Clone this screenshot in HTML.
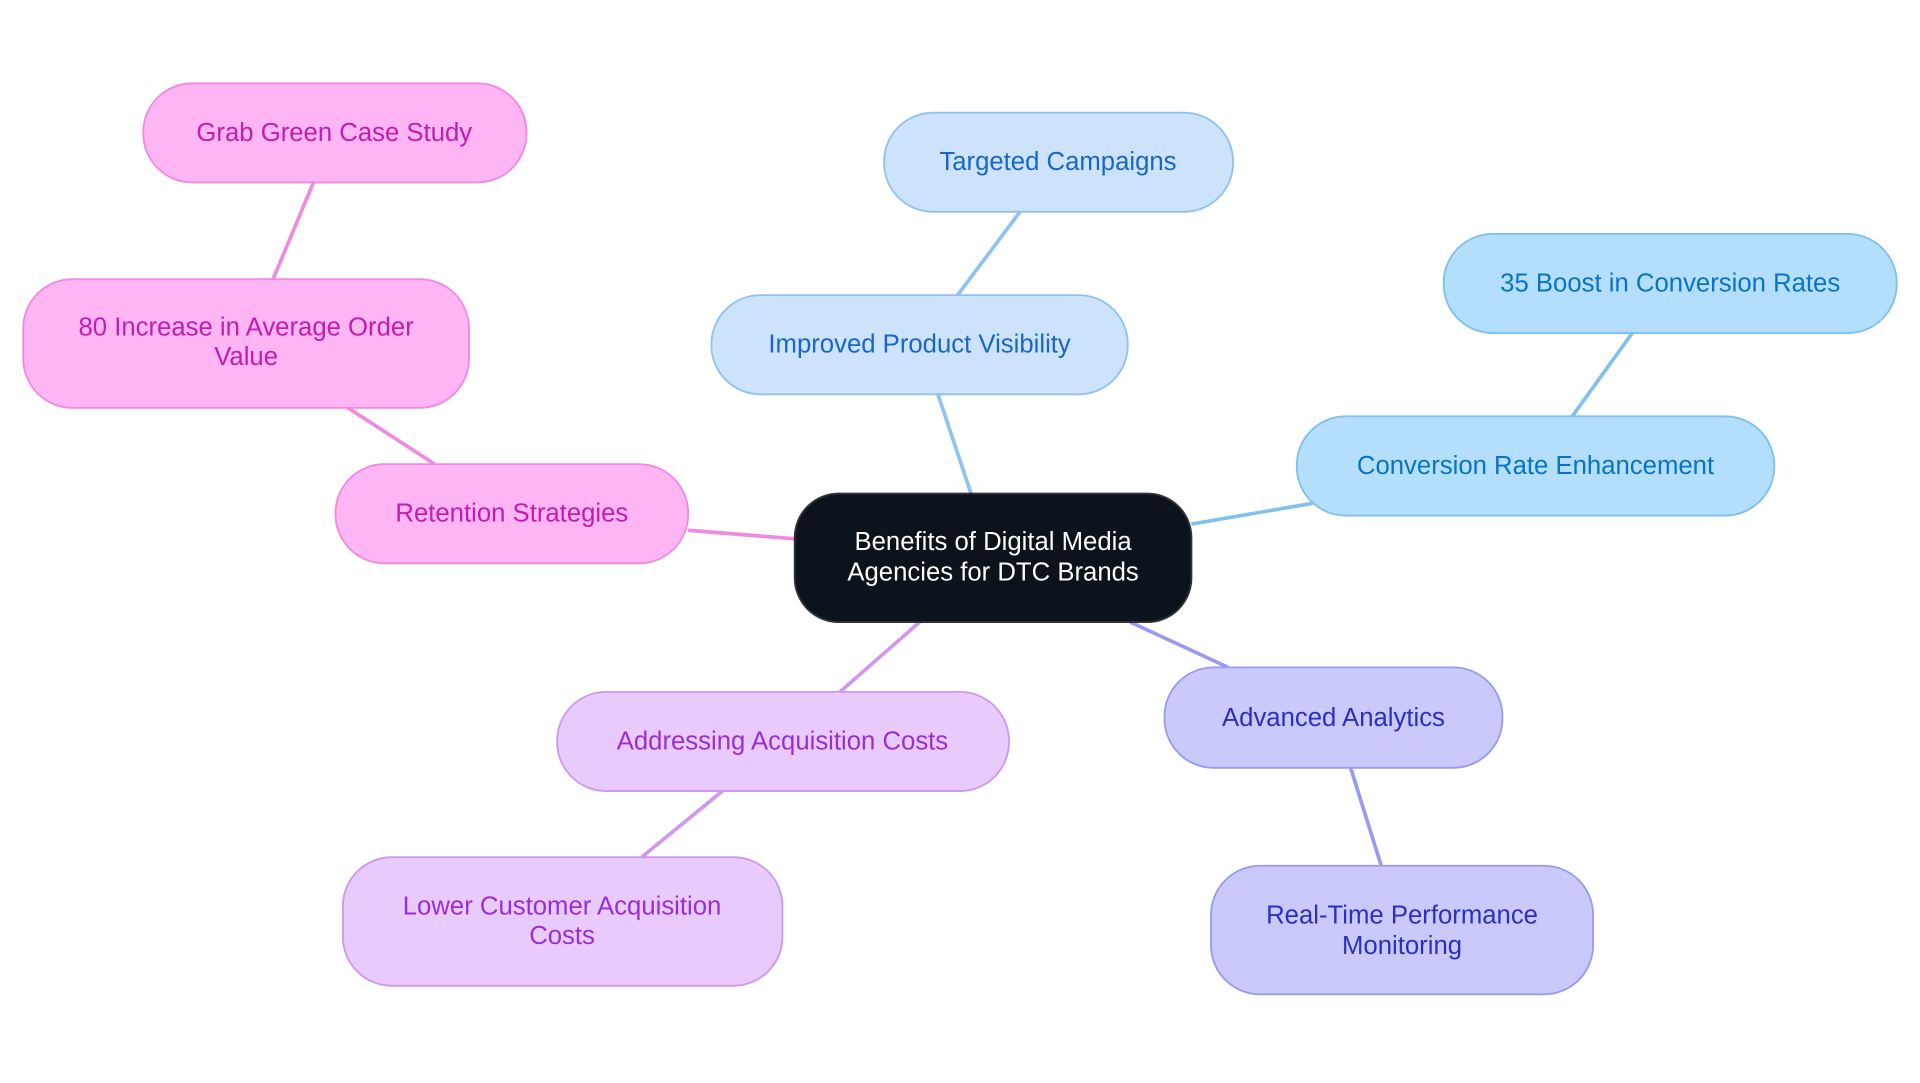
<!DOCTYPE html>
<html><head><meta charset="utf-8"><style>html,body{margin:0;padding:0;background:#fff;}svg{display:block}</style></head><body>
<svg width="1920" height="1083" viewBox="0 0 1568 884.4" preserveAspectRatio="none" xmlns="http://www.w3.org/2000/svg" font-family="Liberation Sans, sans-serif" font-size="21">
<g stroke-width="3" fill="none">
<line x1="793" y1="403" x2="766" y2="322" stroke="#90c2f0"/>
<line x1="782" y1="241" x2="833" y2="173" stroke="#90c2f0"/>
<line x1="973" y1="428" x2="1072" y2="411" stroke="#7ec0ee"/>
<line x1="1284" y1="340" x2="1333" y2="272" stroke="#7ec0ee"/>
<line x1="923" y1="508" x2="1003" y2="545" stroke="#9a9af0"/>
<line x1="1103" y1="627" x2="1128" y2="707" stroke="#9a9af0"/>
<line x1="751" y1="508" x2="686" y2="565" stroke="#cf98ef"/>
<line x1="590" y1="646" x2="524" y2="700" stroke="#cf98ef"/>
<line x1="649" y1="440" x2="562" y2="433" stroke="#f08ae0"/>
<line x1="355" y1="379" x2="284" y2="333" stroke="#f08ae0"/>
<line x1="223" y1="228" x2="256" y2="149" stroke="#f08ae0"/>
</g>
<g stroke-width="1.5" text-anchor="middle">
<rect x="649" y="403" width="324" height="105" rx="36" fill="#0b131c" stroke="#333"/>
<text x="811" y="449" fill="#fff">Benefits of Digital Media</text>
<text x="811" y="474" fill="#fff">Agencies for DTC Brands</text>

<rect x="722" y="92" width="285" height="81" rx="40" fill="#cce3fb" stroke="#90c2f0"/>
<text x="864" y="139" fill="#1a66c8">Targeted Campaigns</text>
<rect x="581" y="241" width="340" height="81" rx="40" fill="#cce3fb" stroke="#90c2f0"/>
<text x="751" y="288" fill="#1a66c8">Improved Product Visibility</text>

<rect x="1179" y="191" width="370" height="81" rx="40" fill="#b3defc" stroke="#7ec0ee"/>
<text x="1364" y="238" fill="#0a74c4">35 Boost in Conversion Rates</text>
<rect x="1059" y="340" width="390" height="81" rx="40" fill="#b3defc" stroke="#7ec0ee"/>
<text x="1254" y="387" fill="#0a74c4">Conversion Rate Enhancement</text>

<rect x="951" y="545" width="276" height="82" rx="40" fill="#c9c9fc" stroke="#9a9af0"/>
<text x="1089" y="593" fill="#2e2ec0">Advanced Analytics</text>
<rect x="989" y="707" width="312" height="105" rx="40" fill="#c9c9fc" stroke="#9a9af0"/>
<text x="1145" y="754" fill="#2e2ec0">Real-Time Performance</text>
<text x="1145" y="779" fill="#2e2ec0">Monitoring</text>

<rect x="455" y="565" width="369" height="81" rx="40" fill="#e8cafc" stroke="#cf98ef"/>
<text x="639" y="612" fill="#9a2ed6">Addressing Acquisition Costs</text>
<rect x="280" y="700" width="359" height="105" rx="40" fill="#e8cafc" stroke="#cf98ef"/>
<text x="459" y="747" fill="#9a2ed6">Lower Customer Acquisition</text>
<text x="459" y="771" fill="#9a2ed6">Costs</text>

<rect x="274" y="379" width="288" height="81" rx="40" fill="#fdb5f3" stroke="#f08ae0"/>
<text x="418" y="426" fill="#c41cb0">Retention Strategies</text>
<rect x="19" y="228" width="364" height="105" rx="40" fill="#fdb5f3" stroke="#f08ae0"/>
<text x="201" y="274" fill="#c41cb0">80 Increase in Average Order</text>
<text x="201" y="298" fill="#c41cb0">Value</text>
<rect x="117" y="68" width="313" height="81" rx="40" fill="#fdb5f3" stroke="#f08ae0"/>
<text x="273" y="115" fill="#c41cb0">Grab Green Case Study</text>
</g>
</svg>
</body></html>
